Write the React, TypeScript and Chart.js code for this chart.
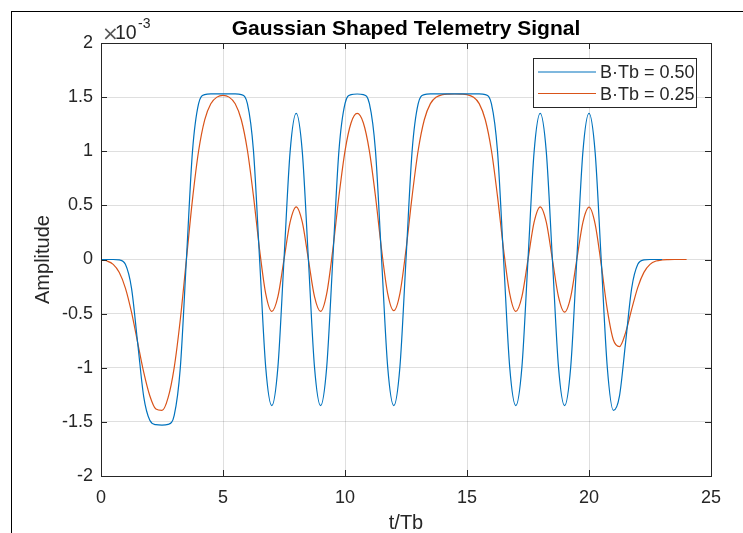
import React, { useEffect, useRef } from "react";
import { Chart, registerables } from "chart.js";
Chart.register(...registerables);

// t/Tb sample positions
const tAxis = [
  0, 0.25, 0.5, 0.75, 1, 1.25, 1.5, 1.75, 2, 2.25, 2.5, 2.75,
  3, 3.25, 3.5, 3.75, 4, 4.25, 4.5, 4.75, 5, 5.25, 5.5, 5.75,
  6, 6.25, 6.5, 6.75, 7, 7.25, 7.5, 7.75, 8, 8.25, 8.5, 8.75,
  9, 9.25, 9.5, 9.75, 10, 10.25, 10.5, 10.75, 11, 11.25, 11.5, 11.75,
  12, 12.25, 12.5, 12.75, 13, 13.25, 13.5, 13.75, 14, 14.25, 14.5, 14.75,
  15, 15.25, 15.5, 15.75, 16, 16.25, 16.5, 16.75, 17, 17.25, 17.5, 17.75,
  18, 18.25, 18.5, 18.75, 19, 19.25, 19.5, 19.75, 20, 20.25, 20.5, 20.75,
  21, 21.25, 21.5, 21.75, 22, 22.25, 22.5, 22.75, 23, 23.25, 23.5, 23.75, 24,
];

// Amplitude (x 10^-3), B·Tb = 0.50 (t = 0 .. 23)
const bt050 = [
  0, 0, 0, -0.004, -0.045, -0.264, -0.765, -1.266, -1.485, -1.526, -1.53, -1.523,
  -1.439, -1.001, 0, 1.001, 1.439, 1.523, 1.53, 1.53, 1.53, 1.53, 1.53, 1.523,
  1.439, 1.001, 0, -0.994, -1.349, -0.994, 0, 0.994, 1.349, 0.994, 0, -0.994,
  -1.349, -0.994, 0, 1.001, 1.439, 1.523, 1.529, 1.523, 1.439, 1.001, 0, -0.994,
  -1.349, -0.994, 0, 1.001, 1.439, 1.523, 1.53, 1.53, 1.53, 1.53, 1.53, 1.53,
  1.53, 1.53, 1.53, 1.523, 1.439, 1.001, 0, -0.994, -1.349, -0.994, 0, 0.994,
  1.349, 0.994, 0, -0.994, -1.349, -0.994, 0, 0.994, 1.349, 0.994, 0, -0.998,
  -1.394, -1.259, -0.765, -0.264, -0.045, -0.004, 0, 0, 0,
];

// Amplitude (x 10^-3), B·Tb = 0.25 (t = 0 .. 24)
const bt025 = [
  -0.004, -0.014, -0.045, -0.12, -0.264, -0.487, -0.765, -1.041, -1.259, -1.382, -1.394, -1.276,
  -0.998, -0.554, 0, 0.555, 1.002, 1.29, 1.439, 1.5, 1.516, 1.5, 1.439, 1.291,
  1.009, 0.583, 0.09, -0.316, -0.48, -0.343, 0, 0.345, 0.487, 0.345, 0, -0.343,
  -0.48, -0.316, 0.09, 0.582, 1.002, 1.263, 1.349, 1.263, 1.002, 0.582, 0.09, -0.315,
  -0.473, -0.315, 0.09, 0.583, 1.009, 1.291, 1.44, 1.502, 1.523, 1.528, 1.529, 1.528,
  1.523, 1.502, 1.44, 1.291, 1.009, 0.583, 0.09, -0.316, -0.48, -0.343, 0, 0.345,
  0.487, 0.345, 0, -0.345, -0.487, -0.345, 0, 0.344, 0.484, 0.33, -0.045, -0.463,
  -0.744, -0.804, -0.675, -0.459, -0.257, -0.119, -0.045, -0.014, -0.004, -0.001, 0, 0, 0,
];

const xTicks = [0, 5, 10, 15, 20, 25];
const yTicks = [-2, -1.5, -1, -0.5, 0, 0.5, 1, 1.5, 2];
const seriesLabels = ["B·Tb = 0.50", "B·Tb = 0.25"];
const seriesColors = ["#0072BD", "#D95319"];
const titleText = "Gaussian Shaped Telemetry Signal";
const xLabel = "t/Tb";
const yLabel = "Amplitude";
const expTimes = "×";
const expBase = "10";
const expPower = "-3";

const FONT = '"Liberation Sans", Arial, Helvetica, sans-serif';
const AXIS_COLOR = "#262626";

const decor = {
  id: "decor",
  afterDraw(chart: any) {
    const { ctx, chartArea: a, scales } = chart;
    ctx.save();
    // figure frame (cropped)
    ctx.fillStyle = "#000";
    ctx.fillRect(11, 11, 743 - 11, 1);
    ctx.fillRect(11, 11, 1, 533 - 11);

    // axes box
    ctx.strokeStyle = AXIS_COLOR;
    ctx.lineWidth = 1;
    ctx.strokeRect(a.left + 0.5, a.top + 0.5, a.right - a.left, a.bottom - a.top);

    // inward ticks
    const tl = 6;
    ctx.beginPath();
    xTicks.forEach((v) => {
      const px = Math.round(scales.x.getPixelForValue(v)) + 0.5;
      ctx.moveTo(px, a.bottom);
      ctx.lineTo(px, a.bottom - tl);
      ctx.moveTo(px, a.top);
      ctx.lineTo(px, a.top + tl);
    });
    yTicks.forEach((v) => {
      const py = Math.round(scales.y.getPixelForValue(v)) + 0.5;
      ctx.moveTo(a.left, py);
      ctx.lineTo(a.left + tl, py);
      ctx.moveTo(a.right, py);
      ctx.lineTo(a.right - tl, py);
    });
    ctx.stroke();

    // title
    ctx.fillStyle = "#000";
    ctx.font = `bold 21px ${FONT}`;
    ctx.textAlign = "center";
    ctx.textBaseline = "alphabetic";
    ctx.fillText(titleText, (a.left + a.right) / 2, 35);

    // axis labels
    ctx.fillStyle = AXIS_COLOR;
    ctx.font = `20px ${FONT}`;
    ctx.fillText(xLabel, (a.left + a.right) / 2, 529);
    ctx.save();
    ctx.translate(49, (a.top + a.bottom) / 2);
    ctx.rotate(-Math.PI / 2);
    ctx.fillText(yLabel, 0, 0);
    ctx.restore();

    // exponent
    ctx.textAlign = "left";
    ctx.fillStyle = "#555";
    ctx.font = `20px "DejaVu Sans", ${FONT}`;
    ctx.fillText(expTimes, 102, 40);
    ctx.fillStyle = AXIS_COLOR;
    ctx.font = `19.5px ${FONT}`;
    ctx.fillText(expBase, 115, 39);
    ctx.font = `14px ${FONT}`;
    ctx.fillText(expPower, 138, 28);

    // legend
    const lx = 533, ly = 58, lw = 163, lh = 49;
    ctx.fillStyle = "#fff";
    ctx.fillRect(lx, ly, lw, lh);
    ctx.strokeStyle = AXIS_COLOR;
    ctx.lineWidth = 1;
    ctx.strokeRect(lx + 0.5, ly + 0.5, lw, lh);
    const lineRows = [72, 93.5];
    const textRows = [73.5, 95.5];
    ctx.font = `18px ${FONT}`;
    ctx.textBaseline = "middle";
    seriesLabels.forEach((lab, i) => {
      ctx.beginPath();
      ctx.strokeStyle = seriesColors[i];
      ctx.lineWidth = 1.2;
      ctx.moveTo(538, lineRows[i]);
      ctx.lineTo(596, lineRows[i]);
      ctx.stroke();
      ctx.fillStyle = AXIS_COLOR;
      ctx.fillText(lab, 600, textRows[i]);
    });
    ctx.restore();
  },
};

export default function App() {
  const ref = useRef<HTMLCanvasElement>(null);
  useEffect(() => {
    const canvas = ref.current!;
    Chart.defaults.font.family = FONT;
    const mk = (vals: number[]) => vals.map((v, i) => ({ x: tAxis[i], y: v }));
    const gridCfg = { color: "rgba(38,38,38,0.15)", lineWidth: 1, drawTicks: false };
    const chart = new Chart(canvas, {
      type: "line",
      data: {
        datasets: [
          {
            label: seriesLabels[0],
            data: mk(bt050),
            borderColor: seriesColors[0],
            backgroundColor: seriesColors[0],
            borderWidth: 1.2,
            pointRadius: 0,
            cubicInterpolationMode: "monotone",
            fill: false,
          },
          {
            label: seriesLabels[1],
            data: mk(bt025),
            borderColor: seriesColors[1],
            backgroundColor: seriesColors[1],
            borderWidth: 1.2,
            pointRadius: 0,
            cubicInterpolationMode: "monotone",
            fill: false,
          },
        ],
      },
      options: {
        responsive: false,
        animation: false,
        layout: { padding: { top: 43, right: 32, left: 0, bottom: 0 } },
        plugins: {
          legend: { display: false },
          title: { display: false },
          tooltip: { enabled: false },
        },
        scales: {
          x: {
            type: "linear",
            min: 0,
            max: 25,
            afterFit: (s: any) => {
              s.height = 57;
            },
            afterBuildTicks: (s: any) => {
              s.ticks = xTicks.map((v) => ({ value: v }));
            },
            ticks: {
              padding: 11,
              color: AXIS_COLOR,
              font: { size: 18 },
              maxRotation: 0,
              autoSkip: false,
            },
            grid: gridCfg,
            border: { display: false },
          },
          y: {
            type: "linear",
            min: -2,
            max: 2,
            afterFit: (s: any) => {
              s.width = 101;
            },
            afterBuildTicks: (s: any) => {
              s.ticks = yTicks.map((v) => ({ value: v }));
            },
            ticks: {
              padding: 8,
              color: AXIS_COLOR,
              font: { size: 18 },
              autoSkip: false,
              callback: (v: any) => String(v),
            },
            grid: gridCfg,
            border: { display: false },
          },
        },
      } as any,
      plugins: [decor],
    });
    return () => chart.destroy();
  }, []);
  return (
    <div style={{ position: "fixed", left: 0, top: 0, width: 743, height: 533, background: "#fff" }}>
      <canvas ref={ref} width={743} height={533} style={{ display: "block", width: 743, height: 533 }} />
    </div>
  );
}
